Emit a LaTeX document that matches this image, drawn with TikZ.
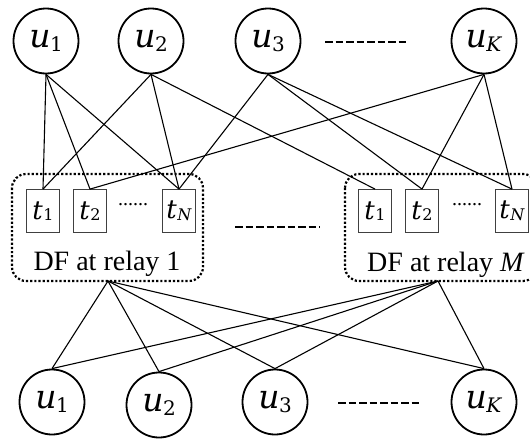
\documentclass[tikz,border=0pt]{standalone}
\usepackage{fontspec}
\setmainfont{Liberation Serif}
\newfontfamily\mfont{DejaVu Serif}
\newcommand\usr[1]{{\mfont\fontsize{33}{35}\selectfont\textit{u}\kern-0.5pt\raisebox{-3.5pt}{\fontsize{20}{21}\selectfont #1}}}
\newcommand\tlab[1]{{\mfont\fontsize{26}{28}\selectfont\textit{t}\kern0.5pt\raisebox{-1.5pt}{\fontsize{16}{17}\selectfont #1}}}
\begin{document}
\begin{tikzpicture}[x=1pt,y=-1pt,
  user/.style={circle,draw,line width=1.8pt,minimum size=65pt,inner sep=0pt},
  tbox/.style={draw=black!75,line width=0.8pt,minimum width=33pt,minimum height=43pt,inner sep=0pt},
  relay/.style={draw,dotted,line width=2.2pt,rounded corners=14pt},
  link/.style={line width=1.1pt},
  dashrow/.style={line width=2.4pt,dash pattern=on 7.5pt off 3pt},
  lbl/.style={font=\fontsize{28}{30}\selectfont,inner sep=0pt,anchor=base},
  dots/.style={font=\fontsize{20}{22}\selectfont,inner sep=0pt}]
\useasboundingbox (0,0) rectangle (530,439);

% top users
\node[user] (ut1) at (46,41) {\usr{1}};
\node[user] (ut2) at (151,41) {\usr{2}};
\node[user] (ut3) at (268,41) {\usr{3}};
\node[user] (utK) at (484,41) {\usr{\textit{K}}};
\coordinate (dt1) at (325,42); \coordinate (dt2) at (409,42);
\draw[dashrow] (dt1) -- (dt2);

% relay 1
\draw[relay] (12,174) rectangle (203,281);
\node[tbox] (a1) at (43,211) {\tlab{1}};
\node[tbox] (a2) at (90,211) {\tlab{2}};
\node[tbox] (aN) at (179,211) {\tlab{\textit{N}}};
\node[dots] (ad) at (133,205) {......};
\node[lbl] (l1) at (107,270) {DF at relay 1};
\coordinate (r1) at (108,281);

% relay M
\draw[relay] (345,174) rectangle (537,281);
\node[tbox] (b1) at (375,211) {\tlab{1}};
\node[tbox] (b2) at (422,211) {\tlab{2}};
\node[tbox] (bN) at (512,211) {\tlab{\textit{N}}};
\node[dots] (bd) at (467,205) {......};
\node[lbl] (lM) at (446,271) {DF at relay \textit{M}};
\coordinate (rM) at (438,281);

\coordinate (dm1) at (235,227); \coordinate (dm2) at (320,227);
\draw[dashrow] (dm1) -- (dm2);

% bottom users
\node[user] (ub1) at (52,402) {\usr{1}};
\node[user] (ub2) at (159,405) {\usr{2}};
\node[user] (ub3) at (275,402) {\usr{3}};
\node[user] (ubK) at (484,402) {\usr{\textit{K}}};
\coordinate (db1) at (338,403); \coordinate (db2) at (422,403);
\draw[dashrow] (db1) -- (db2);

% top links
\draw[link] (ut1.south) -- (a1.north);
\draw[link] (ut1.south) -- (a2.north);
\draw[link] (ut1.south) -- (aN.north);
\draw[link] (ut2.south) -- (a1.north);
\draw[link] (ut2.south) -- (aN.north);
\draw[link] (ut2.south) -- (b1.north);
\draw[link] (ut3.south) -- (aN.north);
\draw[link] (ut3.south) -- (b2.north);
\draw[link] (ut3.south) -- (bN.north);
\draw[link] (utK.south) -- (a2.north);
\draw[link] (utK.south) -- (b2.north);
\draw[link] (utK.south) -- (bN.north);

% bottom links
\foreach \r in {r1,rM}{
  \foreach \u in {ub1,ub2,ub3,ubK}{
    \draw[link] (\r) -- (\u.north);
  }
}
\end{tikzpicture}
\end{document}
